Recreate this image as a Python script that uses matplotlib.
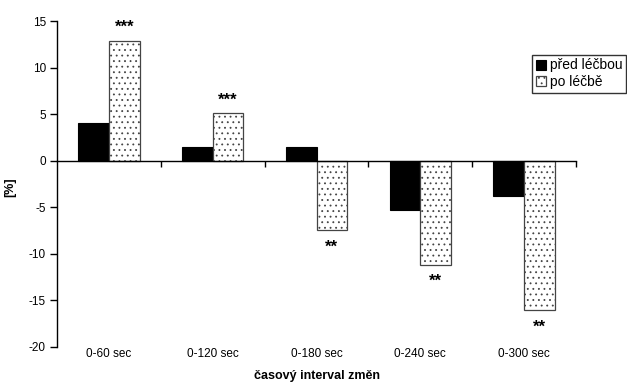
import matplotlib.pyplot as plt
import numpy as np

plt.rcParams['font.family'] = ['Liberation Sans', 'DejaVu Sans']
plt.rcParams['hatch.linewidth'] = 0.6
plt.rcParams['axes.unicode_minus'] = False

kategorie = ["0-60 sec", "0-120 sec", "0-180 sec", "0-240 sec", "0-300 sec"]
pred = [4.0, 1.5, 1.5, -5.3, -3.8]
po = [12.9, 5.1, -7.5, -11.2, -16.1]
hvezdy = ["***", "***", "**", "**", "**"]

fig = plt.figure(figsize=(6.27, 3.84), dpi=100)
ax = fig.add_axes([0.0909, 0.097, 0.8278, 0.848])

x = np.arange(len(kategorie))
w = 0.295
ax.bar(x - w / 2, pred, w, color="black", edgecolor="black", linewidth=0.8,
       label="před léčbou")
ax.bar(x + w / 2, po, w, color="white", edgecolor="#444444", linewidth=0.9,
       hatch="...", label="po léčbě")

for i, (v, s) in enumerate(zip(po, hvezdy)):
    if v >= 0:
        ax.text(x[i] + w / 2, v + 0.6, s, ha="center", va="bottom",
                fontsize=12, fontweight="bold")
    else:
        ax.text(x[i] + w / 2, v - 1.0, s, ha="center", va="top",
                fontsize=12, fontweight="bold")

ax.set_xlim(-0.5, len(kategorie) - 0.5)
ax.set_ylim(-20, 15)
ax.set_yticks(range(-20, 16, 5))
ax.tick_params(axis="y", labelsize=8.5, length=5, width=1, pad=3)

ax.spines["top"].set_visible(False)
ax.spines["right"].set_visible(False)
ax.spines["bottom"].set_position(("data", 0))
ax.spines["left"].set_linewidth(1)
ax.spines["bottom"].set_linewidth(1)

ax.set_xticks(np.arange(0.5, len(kategorie), 1.0))
ax.set_xticklabels([])
ax.tick_params(axis="x", direction="out", length=4, width=1)

for i, k in enumerate(kategorie):
    ax.text(x[i], -0.005, k, transform=ax.get_xaxis_transform(), ha="center",
            va="top", fontsize=8.5)

ax.set_ylabel("[%]", fontsize=9, fontweight="bold")
ax.yaxis.set_label_coords(-0.078, 0.49)
fig.text(0.505, 0.02, "časový interval změn", ha="center", va="center",
         fontsize=9, fontweight="bold")

leg = ax.legend(loc="upper right", bbox_to_anchor=(0.999, 1 - 55 / 384),
                bbox_transform=fig.transFigure, fontsize=10, frameon=True,
                fancybox=False, handlelength=0.75, handleheight=0.75,
                handletextpad=0.3, borderpad=0.25, labelspacing=0.2,
                borderaxespad=0)
leg.get_frame().set_edgecolor("black")
leg.get_frame().set_linewidth(1)

fig.savefig("out.png", dpi=100)
